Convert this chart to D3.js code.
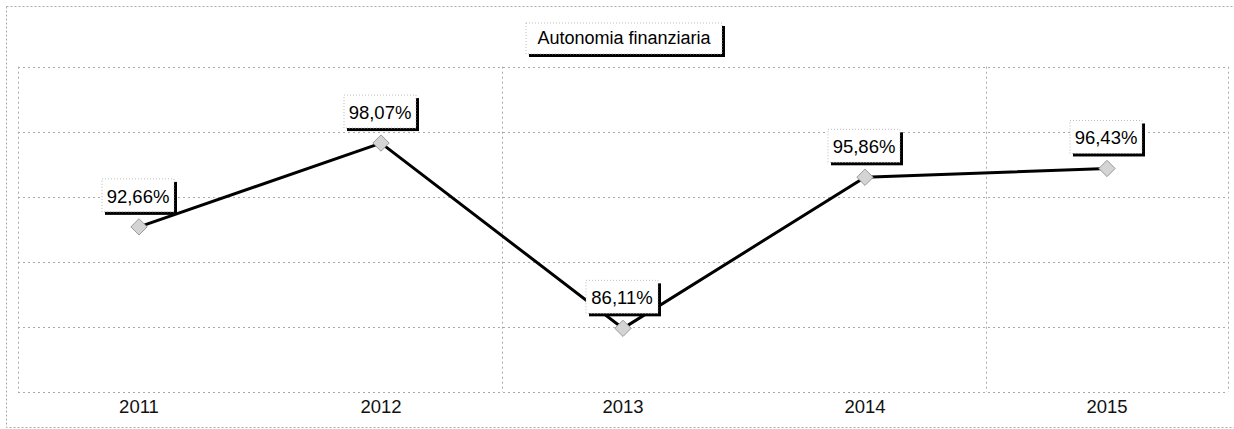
<!DOCTYPE html>
<html>
<head>
<meta charset="utf-8">
<script src="https://cdn.jsdelivr.net/npm/d3@7"></script>
<style>
  body { margin: 0; background: #fff; }
  text { font-family: "Liberation Sans", Arial, sans-serif; }
</style>
</head>
<body>
<script>
// chart data
var years = ["2011", "2012", "2013", "2014", "2015"];
var values = [92.66, 98.07, 86.11, 95.86, 96.43];
var yTicks = [82, 86.2, 90.4, 94.6, 98.8, 103];
var title = "Autonomia finanziaria";

var width = 1234, height = 429;
var plotLeft = 18, plotRight = 1228, plotTop = 66.7, plotBottom = 392;

var svg = d3.select("body").append("svg")
    .attr("width", width)
    .attr("height", height);

// outer frame
svg.append("rect")
    .attr("x", 6.5).attr("y", 6.5)
    .attr("width", width - 6).attr("height", height - 8)
    .attr("fill", "none")
    .attr("stroke", "#aaa")
    .attr("stroke-dasharray", "2,2");

var x = d3.scaleBand().domain(years).range([plotLeft, plotRight]);
var y = d3.scaleLinear().domain([82, 103]).range([plotBottom, plotTop]);

// horizontal gridlines
svg.selectAll(".hgrid")
    .data(yTicks)
    .enter().append("line")
    .attr("class", "hgrid")
    .attr("x1", plotLeft).attr("x2", plotRight)
    .attr("y1", function(d) { return Math.round(y(d)) + 0.5; })
    .attr("y2", function(d) { return Math.round(y(d)) + 0.5; })
    .attr("stroke", "#aaa")
    .attr("stroke-dasharray", "2,3");

// vertical lines: plot edges and a few band boundaries
var vlines = [plotLeft, x("2013"), x("2015"), plotRight];
svg.selectAll(".vgrid")
    .data(vlines)
    .enter().append("line")
    .attr("class", "vgrid")
    .attr("x1", function(d) { return Math.round(d) + 0.5; })
    .attr("x2", function(d) { return Math.round(d) + 0.5; })
    .attr("y1", plotTop).attr("y2", plotBottom)
    .attr("stroke", "#aaa")
    .attr("stroke-dasharray", "2,3");

// x axis labels
svg.selectAll(".xlab")
    .data(years)
    .enter().append("text")
    .attr("class", "xlab")
    .attr("x", function(d) { return x(d) + x.bandwidth() / 2; })
    .attr("y", 413)
    .attr("text-anchor", "middle")
    .attr("font-size", 18.5)
    .attr("fill", "#111")
    .text(function(d) { return d; });

var pts = years.map(function(d, i) {
    return { year: d, v: values[i], px: x(d) + x.bandwidth() / 2, py: y(values[i]) };
});

// the line
svg.append("path")
    .datum(pts)
    .attr("fill", "none")
    .attr("stroke", "#000")
    .attr("stroke-width", 3)
    .attr("d", d3.line().x(function(d) { return d.px; }).y(function(d) { return d.py; }));

// boxed text with a shadow on right and bottom
function shadowBox(g, cx, by, w, h) {
    g.append("rect")
        .attr("x", cx - w / 2 + 3).attr("y", by - h + 3)
        .attr("width", w).attr("height", h)
        .attr("fill", "#000");
    g.append("rect")
        .attr("x", cx - w / 2).attr("y", by - h)
        .attr("width", w).attr("height", h)
        .attr("fill", "#fff")
        .attr("stroke", "#aaa")
        .attr("stroke-width", 0.8)
        .attr("stroke-dasharray", "1,2");
}

var fmt = function(v) { return d3.format(".2f")(v).replace(".", ",") + "%"; };

// data labels
var lab = svg.selectAll(".lab")
    .data(pts)
    .enter().append("g")
    .attr("class", "lab");
lab.each(function(d) {
    var g = d3.select(this);
    shadowBox(g, d.px - 1, d.py - 15, 72, 33);
    g.append("text")
        .attr("x", d.px - 1)
        .attr("y", d.py - 24)
        .attr("text-anchor", "middle")
        .attr("font-size", 18.5)
        .attr("fill", "#000")
        .text(fmt(d.v));
});

// diamond markers
svg.selectAll(".mk")
    .data(pts)
    .enter().append("path")
    .attr("class", "mk")
    .attr("transform", function(d) { return "translate(" + d.px + "," + d.py + ")"; })
    .attr("d", d3.symbol().type(d3.symbolDiamond2).size(170))
    .attr("fill", "#d4d4d4")
    .attr("stroke", "#999")
    .attr("stroke-width", 1);

// title box
var tg = svg.append("g");
shadowBox(tg, 624, 54, 196, 31);
tg.append("text")
    .attr("x", 624)
    .attr("y", 44)
    .attr("text-anchor", "middle")
    .attr("font-size", 18)
    .attr("fill", "#000")
    .text(title);
</script>
</body>
</html>
